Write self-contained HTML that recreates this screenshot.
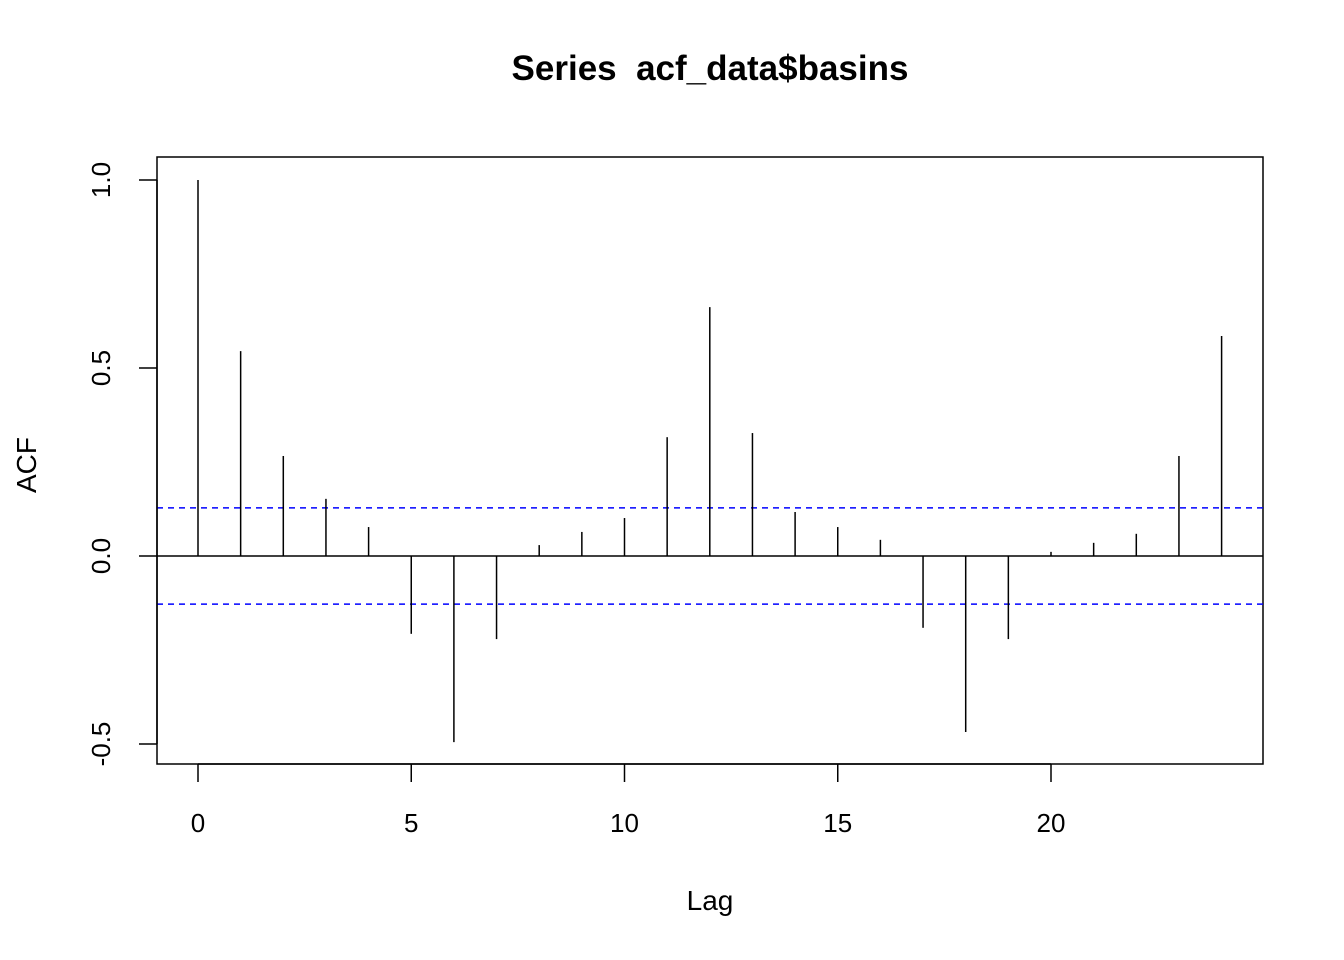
<!DOCTYPE html>
<html><head><meta charset="utf-8"><style>
html,body{margin:0;padding:0;background:#fff;}
svg{display:block;font-family:"Liberation Sans",Arial,sans-serif;}
</style></head><body>
<svg id="chart" width="1344" height="960">
<text x="710" y="80" text-anchor="middle" font-size="35" font-weight="bold" style="white-space:pre" xml:space="preserve">Series  acf_data$basins</text>
<rect x="157" y="157" width="1106" height="607" fill="none" stroke="#000" stroke-width="1.5"/>
<g id="marks"></g>
<text x="710" y="910" text-anchor="middle" font-size="28">Lag</text>
<text transform="translate(36,465) rotate(-90)" text-anchor="middle" font-size="28">ACF</text>
</svg>
<script>
const lags=[0,1,2,3,4,5,6,7,8,9,10,11,12,13,14,15,16,17,18,19,20,21,22,23,24];
const acfValues=[1.0,0.545,0.266,0.152,0.077,-0.207,-0.495,-0.221,0.029,0.064,0.101,0.316,0.662,0.327,0.117,0.077,0.043,-0.191,-0.468,-0.221,0.011,0.035,0.059,0.266,0.585];
const ciLimit=0.128;
const xTicks=[0,5,10,15,20];
const yTicks=[-0.5,0.0,0.5,1.0];
const yTickLabels=["-0.5","0.0","0.5","1.0"];
const NS="http://www.w3.org/2000/svg";
const X=v=>198+v*42.65;
const Y=v=>556-v*376;
const g=document.getElementById('marks');
function mk(t,a){const e=document.createElementNS(NS,t);for(const k in a)e.setAttribute(k,a[k]);g.appendChild(e);return e;}
[ciLimit,-ciLimit].forEach((c,i)=>{
const l=mk('line',{x1:157,x2:1263,y1:Y(c),y2:Y(c),stroke:'#0000ff','stroke-width':1.5,'stroke-dasharray':'6,5'});


});
const z=mk('line',{x1:157,x2:1263,y1:Y(0),y2:Y(0),stroke:'#000','stroke-width':1.5});


lags.forEach((lag,i)=>{
const b=mk('line',{x1:X(lag),x2:X(lag),y1:Y(0),y2:Y(acfValues[i]),stroke:'#000','stroke-width':1.5});


});
mk('line',{x1:X(0),x2:X(20),y1:764,y2:764,stroke:'#000','stroke-width':1.5});
xTicks.forEach(t=>{
mk('line',{x1:X(t),x2:X(t),y1:764,y2:782,stroke:'#000','stroke-width':1.5});
const tx=mk('text',{x:X(t),y:832,'text-anchor':'middle','font-size':26});
tx.textContent=t;


});
mk('line',{x1:157,x2:157,y1:Y(1),y2:Y(-0.5),stroke:'#000','stroke-width':1.5});
yTicks.forEach((t,i)=>{
mk('line',{x1:139,x2:157,y1:Y(t),y2:Y(t),stroke:'#000','stroke-width':1.5});
const tx=mk('text',{transform:`translate(110,${Y(t)}) rotate(-90)`,'text-anchor':'middle','font-size':26});
tx.textContent=yTickLabels[i];


});
</script>
</body></html>
